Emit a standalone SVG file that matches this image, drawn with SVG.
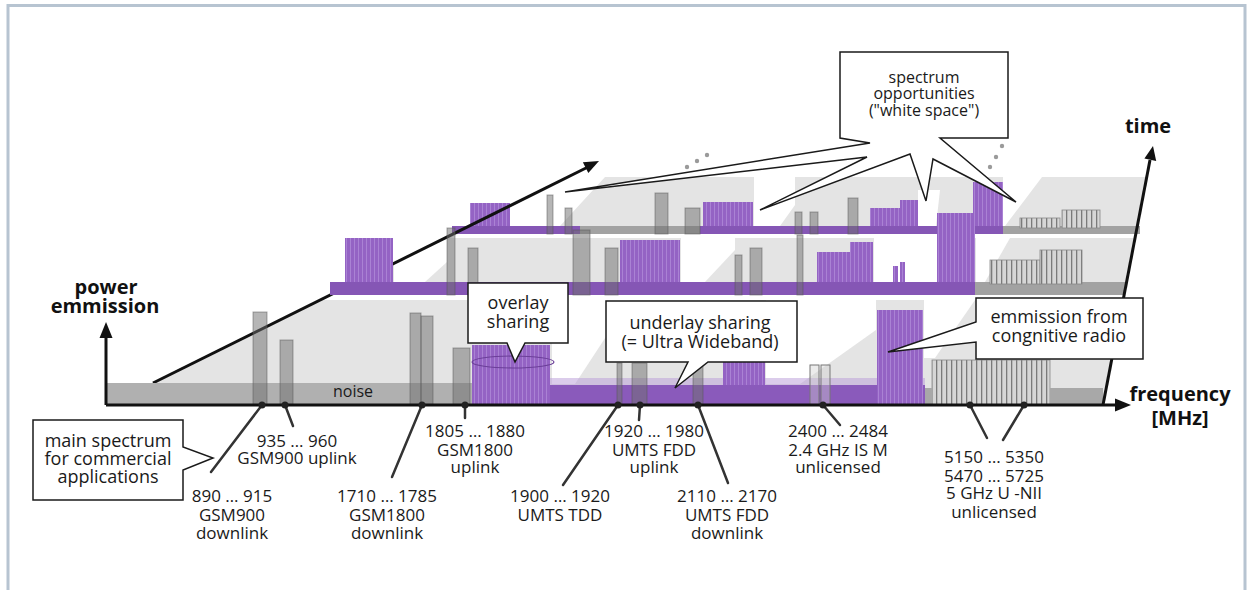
<svg xmlns="http://www.w3.org/2000/svg" width="1251" height="590" viewBox="0 0 1251 590">
<defs>
  <pattern id="pur" patternUnits="userSpaceOnUse" width="4" height="8">
    <rect width="4" height="8" fill="#9463c4"/>
    <rect x="2" width="1" height="8" fill="#aa82d4"/>
  </pattern>
  <pattern id="hatch" patternUnits="userSpaceOnUse" width="5" height="8">
    <rect width="5" height="8" fill="#d6d6d6"/>
    <rect x="1" width="1.3" height="8" fill="#7a7a7a"/>
  </pattern>
</defs>
<style>
  .cal { fill:#fff; stroke:#1a1a1a; stroke-width:1.5; stroke-linejoin:miter }
  .ct { font-family:"Open Sans","Liberation Sans",sans-serif; font-size:18px; fill:#1a1a1a; text-anchor:middle }
  .ct16 { font-size:16px }
  .lb { font-family:"Open Sans","Liberation Sans",sans-serif; font-size:17px; fill:#1a1a1a; text-anchor:middle }
  .ax { font-family:"Open Sans","Liberation Sans",sans-serif; font-weight:bold; font-size:20px; fill:#111; text-anchor:middle }
  .bar { fill:#6e6e6e; fill-opacity:0.5; stroke:#555; stroke-opacity:0.5; stroke-width:1 }
  .blk { fill:url(#pur) }
  .hat { fill:url(#hatch); stroke:#888; stroke-width:0.8 }
  .bandp { fill:#8556b5 }
  .bandg { fill:#a2a2a2 }
  .wht { fill:#ffffff }
  .ptr { stroke:#333; stroke-width:2.5; fill:none; stroke-linecap:round }
  .bdot { fill:#222 }
  .gdot { fill:#9a9a9a }
  .axl { stroke:#111; stroke-width:3; fill:none }
</style>

<rect width="1251" height="590" fill="#ffffff"/>
<path d="M8,590 V5.5 H1245 V590" fill="none" stroke="#b7c4d1" stroke-width="3"/>

<g id="volume">
  <polygon points="153,383 470,226 560,226 605,177 1148,177 1103,405 106,405" fill="#e4e4e4"/>
  <!-- white spaces -->
  <polygon class="wht" points="552,300 630,300 575,384 552,384"/>
  <polygon class="wht" points="766,300 876,300 876,330 800,384 766,384"/>
  <polygon class="wht" points="924,300 975,300 935,358 924,358"/>
  <polygon class="wht" points="394,238 447,238 447,262 425,282 394,282"/>
  <polygon class="wht" points="681,238 735,238 735,250 705,282 681,282"/>
  <polygon class="wht" points="874,238 937,238 937,282 874,282"/>
  <polygon class="wht" points="976,238 1010,238 985,282 976,282"/>
  <polygon class="wht" points="754,177 795,177 795,205 780,226 754,226"/>
  <polygon class="wht" points="1003,177 1042,177 1005,226 1003,226"/>
  <polygon class="wht" points="918,190 940,190 936,226 918,226"/>
  <!-- gaps between layers -->
  <polygon class="wht" points="326,295 1125,295 1124,300 316,300"/>
  <polygon class="wht" points="458,234 1140,234 1139,238 450,238"/>
</g>

<g id="layer-back">
  <rect class="bandp" x="452" y="226" width="128" height="8"/>
  <rect class="bandg" x="580" y="226" width="120" height="8"/>
  <rect class="bandp" x="700" y="226" width="303" height="8"/>
  <rect class="bandg" x="1003" y="226" width="137" height="8"/>
  <rect class="blk" x="470" y="203" width="40" height="23"/>
  <rect class="blk" x="703" y="202" width="50" height="24"/>
  <rect class="blk" x="870" y="208" width="30" height="18"/>
  <rect class="blk" x="900" y="200" width="18" height="26"/>
  <rect class="blk" x="940" y="213" width="30" height="13" opacity="0.8"/>
  <rect class="blk" x="973" y="182" width="30" height="44"/>
  <rect class="bar" x="547" y="195" width="6" height="39"/>
  <rect class="bar" x="565" y="208" width="7" height="26"/>
  <rect class="bar" x="655" y="193" width="13" height="41"/>
  <rect class="bar" x="685" y="208" width="15" height="26"/>
  <rect class="bar" x="795" y="212" width="7" height="22"/>
  <rect class="bar" x="810" y="212" width="8" height="22"/>
  <rect class="bar" x="848" y="198" width="10" height="36"/>
  <rect class="hat" x="1020" y="218" width="40" height="10"/>
  <rect class="hat" x="1062" y="210" width="38" height="18"/>
</g>

<g id="time-axis-left">
  <line class="axl" x1="153" y1="383" x2="588" y2="167"/>
  <polygon points="599,161 588.3,173.1 582.9,162.3" fill="#111"/>
</g>

<g id="layer-middle">
  <rect class="bandp" x="330" y="282" width="645" height="13"/>
  <rect class="bandg" x="975" y="282" width="150" height="13"/>
  <rect class="blk" x="345" y="238" width="48" height="44"/>
  <rect class="blk" x="620" y="240" width="60" height="42"/>
  <rect class="blk" x="817" y="252" width="33" height="30"/>
  <rect class="blk" x="850" y="242" width="23" height="40"/>
  <rect class="blk" x="893" y="266" width="5" height="16"/>
  <rect class="blk" x="900" y="262" width="5" height="20"/>
  <rect class="blk" x="937" y="213" width="38" height="69"/>
  <rect class="bar" x="447" y="228" width="8" height="67"/>
  <rect class="bar" x="468" y="248" width="10" height="47"/>
  <rect class="bar" x="573" y="230" width="17" height="65"/>
  <rect class="bar" x="605" y="248" width="13" height="47"/>
  <rect class="bar" x="735" y="255" width="7" height="40"/>
  <rect class="bar" x="750" y="248" width="12" height="47"/>
  <rect class="bar" x="797" y="235" width="6" height="60"/>
  <rect class="hat" x="990" y="260" width="50" height="24"/>
  <rect class="hat" x="1040" y="250" width="42" height="34"/>
</g>

<g id="layer-front">
  <rect x="106" y="383" width="366" height="22" fill="#b0b0b0"/>
  <rect class="bar" x="253" y="312" width="14" height="93"/>
  <rect class="bar" x="280" y="340" width="13" height="65"/>
  <rect class="bar" x="410" y="313" width="11" height="92"/>
  <rect class="bar" x="421" y="316" width="12" height="89"/>
  <rect class="bar" x="453" y="348" width="17" height="57"/>
  <rect x="550" y="378" width="375" height="7" fill="#b89ad8" opacity="0.5"/>
  <rect x="472" y="385" width="453" height="20" fill="#8a5abb"/>
  <rect class="blk" x="472" y="345" width="78" height="60"/>
  <ellipse cx="513" cy="362" rx="41" ry="6" fill="none" stroke="#6b3f98" stroke-width="1.2"/>
  <rect class="blk" x="723" y="362" width="42" height="23"/>
  <rect class="bar" x="617" y="363" width="5" height="42"/>
  <rect class="bar" x="632" y="363" width="15" height="42"/>
  <rect class="bar" x="693" y="360" width="10" height="45"/>
  <rect x="810" y="365" width="9" height="40" fill="#cfcfcf" fill-opacity="0.4" stroke="#777" stroke-width="1"/>
  <rect x="821" y="365" width="9" height="40" fill="#cfcfcf" fill-opacity="0.4" stroke="#777" stroke-width="1"/>
  <rect class="blk" x="877" y="310" width="46" height="95"/>
  <rect class="hat" x="932" y="360" width="118" height="45"/>
  <rect x="925" y="388" width="7" height="17" fill="#a8a8a8"/>
  <rect x="1050" y="388" width="53" height="17" fill="#a8a8a8"/>
</g>

<g id="axes">
  <line class="axl" x1="106" y1="405" x2="1118" y2="405"/>
  <polygon points="1131,405 1115,398.5 1115,411.5" fill="#111"/>
  <line class="axl" x1="106" y1="405" x2="106" y2="336"/>
  <polygon points="106,322 99.5,338 112.5,338" fill="#111"/>
  <line class="axl" x1="1103" y1="405" x2="1150" y2="160"/>
  <polygon points="1153,146 1156.2,160.9 1144.4,158.6" fill="#111"/>
  <circle class="gdot" cx="687" cy="167" r="2.2"/>
  <circle class="gdot" cx="697" cy="161" r="2.2"/>
  <circle class="gdot" cx="707" cy="155" r="2.2"/>
  <circle class="gdot" cx="990" cy="167" r="2.2"/>
  <circle class="gdot" cx="996" cy="157" r="2.2"/>
  <circle class="gdot" cx="1002" cy="146" r="2.2"/>
</g>

<g id="axis-labels">
  <text class="ax" x="106" y="294">power</text>
  <text class="ax" x="105" y="313">emmission</text>
  <text class="ax" x="1148" y="133">time</text>
  <text class="ax" x="1180" y="401">frequency</text>
  <text class="ax" x="1180" y="425">[MHz]</text>
  <text class="lb" x="353" y="397" style="font-size:16px">noise</text>
</g>

<g id="connectors">
  <line class="ptr" x1="285" y1="405" x2="293" y2="426"/>
  <line class="ptr" x1="262" y1="405" x2="211" y2="472"/>
  <line class="ptr" x1="422" y1="405" x2="392" y2="477"/>
  <line class="ptr" x1="465" y1="405" x2="465" y2="418"/>
  <line class="ptr" x1="618" y1="405" x2="563" y2="485"/>
  <line class="ptr" x1="640" y1="405" x2="639" y2="420"/>
  <line class="ptr" x1="698" y1="405" x2="728" y2="483"/>
  <line class="ptr" x1="823" y1="405" x2="840" y2="425"/>
  <line class="ptr" x1="970" y1="405" x2="987" y2="438"/>
  <line class="ptr" x1="1024" y1="405" x2="1003" y2="440"/>
  <circle class="bdot" cx="262" cy="405" r="3.5"/>
  <circle class="bdot" cx="285" cy="405" r="3.5"/>
  <circle class="bdot" cx="422" cy="405" r="3.5"/>
  <circle class="bdot" cx="465" cy="405" r="3.5"/>
  <circle class="bdot" cx="618" cy="405" r="3.5"/>
  <circle class="bdot" cx="640" cy="405" r="3.5"/>
  <circle class="bdot" cx="698" cy="405" r="3.5"/>
  <circle class="bdot" cx="823" cy="405" r="3.5"/>
  <circle class="bdot" cx="970" cy="405" r="3.5"/>
  <circle class="bdot" cx="1024" cy="405" r="3.5"/>
</g>

<g id="callout-white-space">
  <polygon class="cal" points="840,52 1008,52 1008,138 940,138 1016,202 933,159 926,201 910,154 760,210 867,157 565,192 870,143 840,138"/>
  <text class="ct ct16" x="924" y="83">spectrum</text>
  <text class="ct ct16" x="924" y="99">opportunities</text>
  <text class="ct ct16" x="924" y="116">("white space")</text>
</g>

<g id="callout-overlay">
  <polygon class="cal" points="468,283 568,283 568,343 525,343 515,362 507,343 468,343"/>
  <text class="ct" x="518" y="309">overlay</text>
  <text class="ct" x="518" y="328">sharing</text>
</g>

<g id="callout-underlay">
  <polygon class="cal" points="606,301 797,301 797,362 708,362 675,388 688,362 606,362"/>
  <text class="ct" x="700" y="329">underlay sharing</text>
  <text class="ct" x="700" y="348">(= Ultra Wideband)</text>
</g>

<g id="callout-cognitive">
  <polygon class="cal" points="976,298 1143,298 1143,359 976,359 976,342 888,352 976,322"/>
  <text class="ct" x="1059" y="323">emmission from</text>
  <text class="ct" x="1059" y="342">congnitive radio</text>
</g>

<g id="callout-main">
  <polygon class="cal" points="33,420 183,420 183,447 213,458 183,470 183,500 33,500"/>
  <text class="ct" x="108" y="447">main spectrum</text>
  <text class="ct" x="108" y="465">for commercial</text>
  <text class="ct" x="108" y="483">applications</text>
</g>

<g id="label-935">
  <text class="lb" x="297" y="447">935 … 960</text>
  <text class="lb" x="297" y="464">GSM900 uplink</text>
</g>
<g id="label-890">
  <text class="lb" x="232" y="502">890 … 915</text>
  <text class="lb" x="232" y="521">GSM900</text>
  <text class="lb" x="232" y="539">downlink</text>
</g>
<g id="label-1710">
  <text class="lb" x="387" y="502">1710 … 1785</text>
  <text class="lb" x="387" y="521">GSM1800</text>
  <text class="lb" x="387" y="539">downlink</text>
</g>
<g id="label-1805">
  <text class="lb" x="475" y="437">1805 … 1880</text>
  <text class="lb" x="475" y="456">GSM1800</text>
  <text class="lb" x="475" y="473">uplink</text>
</g>
<g id="label-1900">
  <text class="lb" x="560" y="502">1900 … 1920</text>
  <text class="lb" x="560" y="521">UMTS TDD</text>
</g>
<g id="label-1920">
  <text class="lb" x="654" y="437">1920 … 1980</text>
  <text class="lb" x="654" y="456">UMTS FDD</text>
  <text class="lb" x="654" y="473">uplink</text>
</g>
<g id="label-2110">
  <text class="lb" x="727" y="502">2110 … 2170</text>
  <text class="lb" x="727" y="521">UMTS FDD</text>
  <text class="lb" x="727" y="539">downlink</text>
</g>
<g id="label-2400">
  <text class="lb" x="838" y="437">2400 … 2484</text>
  <text class="lb" x="838" y="456">2.4 GHz IS M</text>
  <text class="lb" x="838" y="473">unlicensed</text>
</g>
<g id="label-5150">
  <text class="lb" x="994" y="463">5150 … 5350</text>
  <text class="lb" x="994" y="482">5470 … 5725</text>
  <text class="lb" x="994" y="499">5 GHz U -NII</text>
  <text class="lb" x="994" y="518">unlicensed</text>
</g>
</svg>
